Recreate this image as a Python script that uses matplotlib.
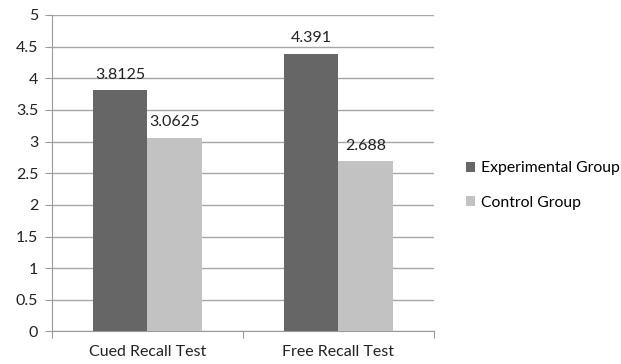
import numpy as np
import matplotlib.pyplot as plt

categories = ["Cued Recall Test", "Free Recall Test"]
experimental = [3.8125, 4.391]
control = [3.0625, 2.688]
exp_labels = ["3.8125", "4.391"]
ctrl_labels = ["3.0625", "2.688"]

plt.rcParams['font.family'] = ['Lato', 'DejaVu Sans']
plt.rcParams['font.size'] = 11.5

fig = plt.figure(figsize=(6.21, 3.64), dpi=100)
ax = fig.add_axes([0.0837, 0.0893, 0.615, 0.8695])

x = np.arange(len(categories))
w = 0.285
b1 = ax.bar(x - w / 2, experimental, w, color='#666666', label='Experimental Group', zorder=3)
b2 = ax.bar(x + w / 2, control, w, color='#c2c2c2', label='Control Group', zorder=3)

for bars, labs in ((b1, exp_labels), (b2, ctrl_labels)):
    for r, t in zip(bars, labs):
        ax.annotate(t, (r.get_x() + r.get_width() / 2, r.get_height()),
                    xytext=(0, 6), textcoords='offset points',
                    ha='center', va='bottom', color='#222222')

ax.set_xlim(-0.5, 1.5)
ax.set_ylim(0, 5)
ax.set_yticks(np.arange(0, 5.01, 0.5))
ax.set_yticklabels(['0', '0.5', '1', '1.5', '2', '2.5', '3', '3.5', '4', '4.5', '5'])
ax.set_xticks([-0.5, 0.5, 1.5], minor=False)
ax.set_xticklabels(['', '', ''])
ax.set_xticks(x, minor=True)
ax.set_xticklabels(categories, minor=True)
ax.tick_params(axis='x', which='minor', length=0, pad=10, colors='#222222')
ax.tick_params(axis='x', which='major', length=5, color='#999999')
ax.tick_params(axis='y', length=5, color='#999999', labelcolor='#222222', pad=5)

ax.grid(axis='y', color='#a6a6a6', linewidth=1, zorder=0)
for s in ('top', 'right'):
    ax.spines[s].set_visible(False)
ax.spines['left'].set_color('#999999')
ax.spines['bottom'].set_color('#999999')

fig.legend(handles=[b1, b2], loc='center left', bbox_to_anchor=(0.727, 0.49),
           frameon=False, handlelength=0.6, handleheight=0.6, handletextpad=0.35,
           labelspacing=1.3, fontsize=11.3)

fig.savefig('out.png', dpi=100)
